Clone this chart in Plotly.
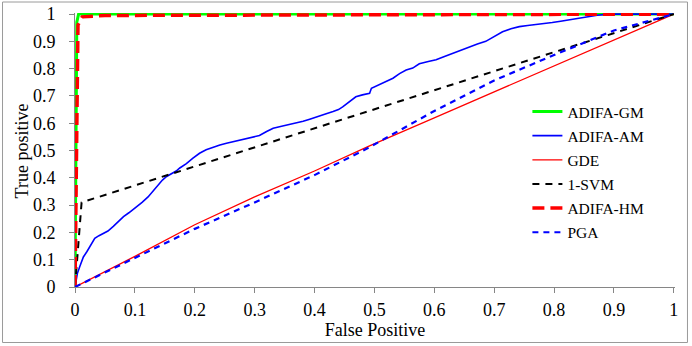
import plotly.graph_objects as go

# ROC curves, values
gm_fp = [0, 0.003, 0.006, 1]
gm_tp = [0, 0.97, 1.0, 1.0]

am_fp = [0, 0.002, 0.004, 0.008, 0.011, 0.014, 0.02, 0.025, 0.03, 0.033,
         0.04, 0.047, 0.055, 0.064, 0.072, 0.081, 0.09, 0.103, 0.112, 0.122,
         0.13, 0.139, 0.146, 0.153, 0.161, 0.169, 0.175, 0.186, 0.197, 0.208,
         0.219, 0.23, 0.242, 0.253, 0.264, 0.275, 0.286, 0.297, 0.308, 0.32,
         0.331, 0.345, 0.358, 0.37, 0.381, 0.392, 0.403, 0.417, 0.431, 0.44,
         0.447, 0.458, 0.469, 0.48, 0.492, 0.495, 0.508, 0.52, 0.531, 0.542,
         0.553, 0.564, 0.575, 0.59, 0.603, 0.617, 0.631, 0.645, 0.658, 0.672,
         0.686, 0.7, 0.714, 0.728, 0.742, 0.756, 0.769, 0.783, 0.797, 0.811,
         0.825, 0.84, 0.853, 0.872, 0.892, 0.91, 1]
am_tp = [0, 0.03, 0.05, 0.075, 0.094, 0.11, 0.13, 0.15, 0.165, 0.178,
         0.188, 0.196, 0.205, 0.222, 0.24, 0.258, 0.272, 0.293, 0.31, 0.33,
         0.35, 0.375, 0.392, 0.405, 0.415, 0.425, 0.436, 0.452, 0.472, 0.49,
         0.503, 0.512, 0.52, 0.527, 0.533, 0.538, 0.545, 0.55, 0.555, 0.57,
         0.582, 0.589, 0.595, 0.6, 0.607, 0.615, 0.624, 0.633, 0.643, 0.65,
         0.66, 0.68, 0.697, 0.704, 0.71, 0.728, 0.741, 0.752, 0.765, 0.782,
         0.795, 0.802, 0.818, 0.826, 0.833, 0.845, 0.857, 0.868, 0.88, 0.89,
         0.9, 0.917, 0.935, 0.946, 0.954, 0.958, 0.961, 0.965, 0.969, 0.974,
         0.979, 0.985, 0.991, 0.996, 1.0, 1.0, 1.0]

gde_fp = [0, 0.1, 0.2, 0.3, 0.4, 0.49, 0.6, 0.7, 0.8, 0.9, 1]
gde_tp = [0, 0.112, 0.228, 0.33, 0.425, 0.515, 0.62, 0.715, 0.81, 0.905, 1]

svm_fp = [0, 0.011, 1]
svm_tp = [0, 0.31, 1]

hm_fp = [0, 0.005, 0.012, 0.05, 1]
hm_tp = [0, 0.96, 0.99, 0.995, 1]

pga_fp = [0, 0.1, 0.2, 0.3, 0.4, 0.49, 0.6, 0.7, 0.8, 0.9, 1]
pga_tp = [0, 0.105, 0.213, 0.31, 0.41, 0.51, 0.645, 0.757, 0.85, 0.94, 1]

x_ticks = [0, 0.1, 0.2, 0.3, 0.4, 0.5, 0.6, 0.7, 0.8, 0.9, 1]
y_ticks = [0, 0.1, 0.2, 0.3, 0.4, 0.5, 0.6, 0.7, 0.8, 0.9, 1]
tick_text = ["0", "0.1", "0.2", "0.3", "0.4", "0.5", "0.6", "0.7", "0.8", "0.9", "1"]

FONT = "Liberation Serif, Times New Roman, DejaVu Serif, serif"
AXIS = "#868686"

series = [
    ("ADIFA-GM", gm_fp, gm_tp, dict(color="#00ff00", width=3)),
    ("ADIFA-AM", am_fp, am_tp, dict(color="#0000ff", width=1.6)),
    ("GDE", gde_fp, gde_tp, dict(color="#ff0000", width=1.3)),
    ("1-SVM", svm_fp, svm_tp, dict(color="#000000", width=2, dash="7px,6px")),
    ("ADIFA-HM", hm_fp, hm_tp, dict(color="#ff0000", width=3.5, dash="12px,6px")),
    ("PGA", pga_fp, pga_tp, dict(color="#0000ff", width=2.2, dash="6px,5px")),
]

fig = go.Figure()
for name, xs, ys, line in series:
    fig.add_trace(go.Scatter(x=xs, y=ys, name=name, mode="lines", line=line,
                             legendgroup=name))

axis_common = dict(showgrid=False, zeroline=False, showline=True, automargin=False,
                   linecolor=AXIS, linewidth=1, ticks="outside", ticklen=5,
                   tickcolor=AXIS, tickfont=dict(family=FONT, size=18, color="black"))

fig.update_layout(
    template="none",
    width=692, height=346,
    margin=dict(l=75, r=17, t=13, b=59),
    paper_bgcolor="white", plot_bgcolor="white",
    font=dict(family=FONT, size=18, color="black"),
    showlegend=True,
    legend=dict(x=0.754, y=0.701, xanchor="left", yanchor="top",
                font=dict(family=FONT, size=15.5, color="black"),
                bgcolor="rgba(0,0,0,0)", tracegroupgap=1),
    xaxis=dict(range=[0, 1.002], tickvals=x_ticks, ticktext=tick_text,
               ticklabelstandoff=1,
               title=dict(text="False Positive", standoff=4,
                          font=dict(family=FONT, size=18)),
               **axis_common),
    yaxis=dict(range=[0, 1.004], tickvals=y_ticks, ticktext=tick_text,
               ticklabelstandoff=10, **axis_common),
    annotations=[dict(text="True positive", textangle=-90, showarrow=False,
                      xref="paper", yref="paper", x=-0.0885, y=0.498,
                      xanchor="center", yanchor="middle",
                      font=dict(family=FONT, size=18, color="black"))],
    shapes=[dict(type="rect", xref="paper", yref="paper",
                 x0=-0.1208, x1=1.0208, y0=-0.2026, y1=1.0401,
                 line=dict(color="#9a9a9a", width=1), layer="below")],
)

fig.write_html("out.html", config={"displayModeBar": False},
               post_script="document.body.style.margin='0';")
